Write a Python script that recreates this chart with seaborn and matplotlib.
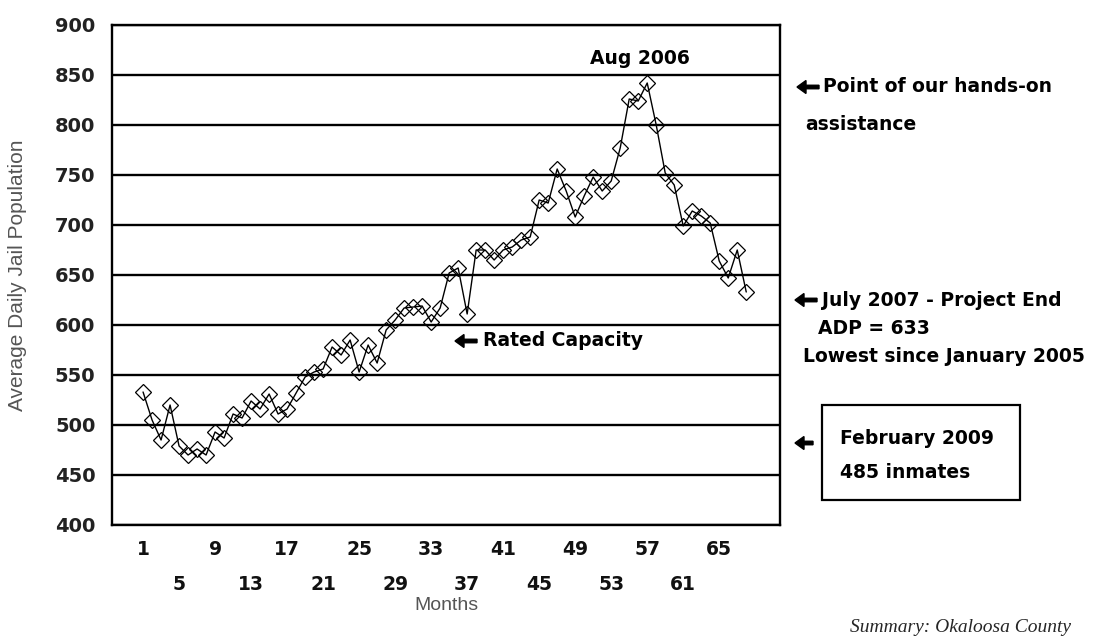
import matplotlib
matplotlib.use("Agg")
import matplotlib.pyplot as plt
from matplotlib.patches import Rectangle, FancyArrow
from matplotlib.transforms import IdentityTransform
import seaborn as sns

months = list(range(1, 69))
adp = [
    533, 505, 485, 520, 479, 470, 476, 470, 493, 487,
    511, 507, 524, 516, 531, 511, 516, 532, 548, 553,
    556, 578, 570, 585, 553, 580, 562, 595, 605, 617,
    618, 619, 603, 617, 652, 657, 611, 675, 675, 665,
    675, 678, 685, 688, 725, 722, 756, 734, 708, 729,
    748, 734, 744, 777, 826, 824, 842, 800, 752, 740,
    699, 714, 709, 702, 664, 647, 675, 633,
]
row1_months = list(range(1, 66, 8))
row2_months = list(range(5, 62, 8))
y_ticks = list(range(400, 901, 50))

sns.set_theme(style="white")
plt.rcParams["font.family"] = ["Liberation Sans", "DejaVu Sans"]

W, H = 1097, 639
fig = plt.figure(figsize=(W / 100, H / 100), dpi=100)
ax = fig.add_axes([112 / W, 1 - 525 / H, 668 / W, 500 / H])

sns.lineplot(x=months, y=adp, ax=ax, color="black", linewidth=1.0,
             marker="D", markersize=8, markerfacecolor="none",
             markeredgecolor="black", markeredgewidth=0.9, zorder=3)

ax.set_xlim(-2.45, 71.75)
ax.set_ylim(400, 900)
ax.set_yticks(y_ticks)
ax.set_yticklabels([str(v) for v in y_ticks], fontsize=14, fontweight="bold",
                   color="#222222", family="DejaVu Sans")

# two staggered rows of month labels, like the spreadsheet axis
ax.set_xticks(row1_months)
ax.set_xticklabels([str(m) for m in row1_months], fontsize=13.5, fontweight="bold",
                   color="#111111", family="DejaVu Sans")
ax.set_xticks(row2_months, minor=True)
ax.set_xticklabels([str(m) for m in row2_months], minor=True, fontsize=13.5,
                   fontweight="bold", color="#111111", family="DejaVu Sans")
ax.tick_params(axis="x", which="major", length=0, pad=11)
ax.tick_params(axis="x", which="minor", length=0, pad=36)
ax.tick_params(axis="y", length=0, pad=12)
ax.yaxis.grid(True, color="black", linewidth=1.7)
ax.xaxis.grid(False)
for sp in ax.spines.values():
    sp.set_color("black")
    sp.set_linewidth(1.7)

ax.set_ylabel("Average Daily Jail Population", fontsize=15, color="#555555")
ax.yaxis.set_label_coords((18 - 112) / 668, 0.5)
ax.yaxis.label.set_va("center")
ax.set_xlabel("Months", fontsize=14, color="#555555")
ax.xaxis.set_label_coords(0.5, (525 - 605) / 500)
ax.xaxis.label.set_va("center")

bold = dict(fontsize=13.5, fontweight="bold", color="black", family="DejaVu Sans")

def ftext(px, py, s, **kw):
    fig.text(px / W, 1 - py / H, s, va="center", ha="left", **kw)

def arrow(px, py, length=22):
    fig.add_artist(FancyArrow(px + length, H - py, -length, 0, width=3.5,
                              head_width=13, head_length=9,
                              length_includes_head=True, color="black",
                              transform=IdentityTransform()))

fig.text(640 / W, 1 - 58 / H, "Aug 2006", ha="center", va="center", **bold)
arrow(797, 87)
ftext(823, 87, "Point of our hands-on", **bold)
ftext(805, 125, "assistance", **bold)
arrow(795, 300)
ftext(822, 300, "July 2007 - Project End", **bold)
ftext(818, 328, "ADP = 633", **bold)
ftext(803, 356, "Lowest since January 2005", **bold)
arrow(455, 341)
ftext(483, 341, "Rated Capacity", **bold)
arrow(795, 443, length=18)
ftext(840, 438, "February 2009", **bold)
ftext(840, 473, "485 inmates", **bold)
fig.patches.append(Rectangle((822 / W, 1 - 500 / H), 198 / W, 95 / H,
                             transform=fig.transFigure, fill=False,
                             edgecolor="black", linewidth=1.6))
fig.text(850 / W, 1 - 627 / H, "Summary: Okaloosa County", ha="left", va="center",
         fontsize=14, style="italic", family=["Liberation Serif", "DejaVu Serif"])

fig.savefig("out.png", dpi=100, facecolor="white")
